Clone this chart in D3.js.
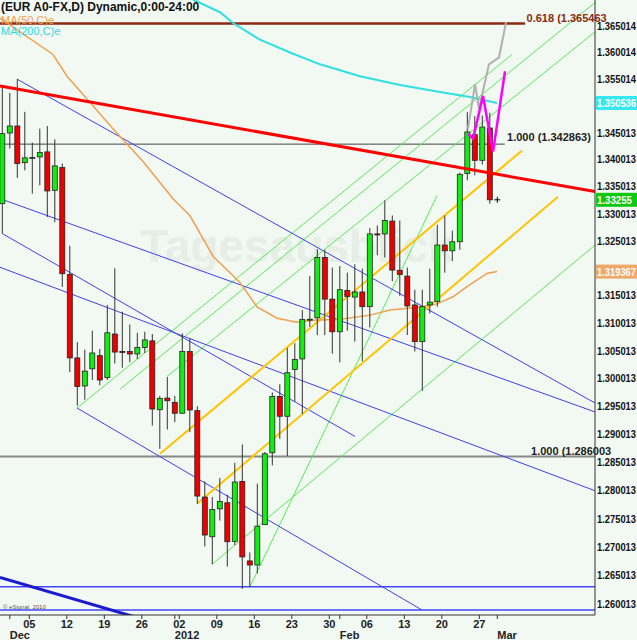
<!DOCTYPE html>
<html><head><meta charset="utf-8">
<script src="https://cdn.jsdelivr.net/npm/d3@7"></script>
<style>body{margin:0;background:#fff}svg{display:block}text{font-family:"Liberation Sans",Arial,sans-serif}</style>
</head><body><svg id="c" width="637" height="640"></svg>
<script>
// OHLC per trading day, index 0 = 2011-11-30
const opens  = [1.33183,1.34494,1.34624,1.33943,1.34036,1.34049,1.34142,1.33430,1.33851,1.31885,1.30369,1.29864,1.30173,1.30410,1.30014,1.30801,1.30486,1.30486,1.30440,1.30557,1.30677,1.29438,1.29646,1.29569,1.29374,1.30486,1.29420,1.27881,1.27181,1.27673,1.27780,1.27099,1.28159,1.26755,1.26684,1.27394,1.28668,1.29676,1.29320,1.30161,1.30351,1.31064,1.31094,1.32195,1.31435,1.30842,1.31594,1.31472,1.31565,1.31298,1.32627,1.32627,1.32863,1.31960,1.31854,1.31329,1.30664,1.31329,1.31391,1.32423,1.32317,1.32484,1.33740,1.34463,1.33986,1.34587];
const highs  = [1.35371,1.35241,1.35501,1.34889,1.34314,1.34574,1.34624,1.34375,1.33925,1.32410,1.30653,1.30516,1.30860,1.30529,1.31329,1.31997,1.31206,1.30973,1.30824,1.30842,1.30801,1.29687,1.30024,1.29687,1.30813,1.30724,1.29498,1.28159,1.27881,1.28219,1.27922,1.28491,1.28816,1.26904,1.28118,1.28681,1.29747,1.29895,1.30547,1.30635,1.31237,1.31854,1.32349,1.32336,1.32010,1.32039,1.31917,1.32071,1.31991,1.32733,1.32781,1.33245,1.32966,1.32874,1.32010,1.31607,1.31607,1.31991,1.32794,1.32966,1.32688,1.33758,1.34883,1.34809,1.34820,1.34870];
const lows   = [1.32627,1.34203,1.33660,1.33801,1.33369,1.33523,1.32937,1.32844,1.31657,1.30113,1.29509,1.29616,1.29971,1.29877,1.29971,1.30268,1.30191,1.30291,1.30351,1.30458,1.29153,1.28739,1.29082,1.29214,1.29361,1.29036,1.27762,1.27010,1.26696,1.27465,1.26655,1.27034,1.26264,1.26300,1.26536,1.27389,1.28443,1.28917,1.28610,1.29580,1.29361,1.30931,1.30783,1.30783,1.30445,1.30291,1.30860,1.30664,1.30309,1.30920,1.32238,1.32195,1.31761,1.31496,1.30783,1.30486,1.29776,1.31176,1.31298,1.31917,1.32132,1.32336,1.33615,1.33708,1.33906,1.33183];
const closes = [1.34481,1.34624,1.33925,1.34031,1.34040,1.34129,1.33419,1.33882,1.31898,1.30369,1.29854,1.30131,1.30458,1.29971,1.30824,1.30475,1.30480,1.30440,1.30557,1.30694,1.29450,1.29641,1.29598,1.29374,1.30486,1.29432,1.27899,1.27211,1.27661,1.27803,1.27092,1.28148,1.26826,1.26684,1.27366,1.28650,1.29676,1.29320,1.30102,1.30339,1.31064,1.31070,1.32195,1.31435,1.30842,1.31607,1.31483,1.31565,1.31298,1.32627,1.32620,1.32874,1.31965,1.31885,1.31311,1.30664,1.31298,1.31380,1.32423,1.32317,1.32484,1.33727,1.34513,1.33986,1.34605,1.33255];
// moving averages [index, price]
const ma50  = [[-0.31,1.36650],[6.76,1.35964],[8.63,1.35556],[11.29,1.35130],[14.76,1.34574],[18.76,1.33962],[22.76,1.33276],[25.03,1.32961],[28.09,1.32219],[31.69,1.31737],[33.96,1.31292],[36.63,1.31088],[39.29,1.31014],[41.43,1.31051],[45.03,1.31070],[49.03,1.31144],[51.69,1.31237],[55.69,1.31292],[57.96,1.31348],[60.09,1.31478],[61.96,1.31663],[64.63,1.31904],[65.96,1.31937]];
const ma200 = [[23,1.37206],[25.7,1.36984],[29.03,1.36762],[30.76,1.36558],[34.36,1.36242],[38.36,1.36001],[42.36,1.35779],[47.69,1.35556],[53.03,1.35390],[58.36,1.35260],[62.36,1.35167],[65.96,1.35054]];
// projections
const grayPath = [[62.09,1.34574],[63.03,1.35408],[63.56,1.34945],[64.89,1.35779],[66.23,1.35909],[67.17,1.36576]];
const pinkPath = [[62.09,1.34481],[62.76,1.34388],[64.09,1.35186],[65.43,1.34148],[67.03,1.35649]];
// trendlines [i1,p1,i2,p2]
const redLine   = [[-0.31,1.35371,79.03,1.33406]];
const blueLines = [[1.96,1.35501,79.03,1.29557],[0.09,1.32627,47.03,1.28959],[-0.31,1.33276,79.03,1.29397],[-0.31,1.32016,79.03,1.27993],[9.96,1.29468,55.96,1.25896]];
const blueThick = [[-0.31,1.26465,21.03,1.25648]];
const greenLines= [[9.96,1.29468,67.96,1.35964],[15.69,1.29806,79.03,1.36947],[21.96,1.30037,79.03,1.36391],[27.96,1.26696,79.03,1.32423],[33.03,1.26305,57.96,1.33332]];
const yellowLines=[[21.03,1.28650,69.29,1.34166],[25.96,1.27762,74.09,1.33313]];
// levels
const levelPrices = [1.365463,1.342863,1.286003,1.26303,1.25897];
const axisTicks = [1.365014,1.360014,1.355014,1.345013,1.340013,1.335013,1.330013,1.325013,1.315013,1.310013,1.305013,1.300013,1.295013,1.290013,1.285013,1.280013,1.275013,1.270013,1.265013,1.260013];
const dayTickIdx = [3,8,13,18,23,28,33,38,43,48,53,58,63];
const dayTickLabels = ["05","12","19","26","02","09","16","23","30","06","13","20","27"];
const monthIdx = [1,23,45,66];
const monthLabels = ["Dec","2012","Feb","Mar"];

const W=595,H=615;
const svg=d3.select("#c");
svg.append("rect").attr("width",637).attr("height",640).attr("fill","#f2f8f2");
const x=d3.scaleLinear().domain([0,1]).range([2.3,9.8]);
const y=d3.scaleLog().domain([1.260013,1.365013]).range([604,26]);
svg.append("defs").append("clipPath").attr("id","pc").append("rect").attr("width",W).attr("height",H);
const g=svg.append("g").attr("clip-path","url(#pc)");
g.append("text").attr("x",140).attr("y",262).attr("font-size",46).attr("font-weight","bold").attr("fill","#e6eee6").text("Tagesausblick");
const seg=(arr,col,w)=>g.selectAll(null).data(arr).enter().append("line")
 .attr("x1",d=>x(d[0])).attr("y1",d=>y(d[1])).attr("x2",d=>x(d[2])).attr("y2",d=>y(d[3]))
 .attr("stroke",col).attr("stroke-width",w);
g.append("line").attr("x1",0).attr("x2",x(69.7)).attr("y1",y(levelPrices[0])).attr("y2",y(levelPrices[0])).attr("stroke","#8b2a10").attr("stroke-width",2.5);
g.append("line").attr("x1",0).attr("x2",x(67)).attr("y1",y(levelPrices[1])).attr("y2",y(levelPrices[1])).attr("stroke","#444").attr("stroke-width",1);
g.append("line").attr("x1",0).attr("x2",W).attr("y1",y(levelPrices[2])).attr("y2",y(levelPrices[2])).attr("stroke","#888").attr("stroke-width",2);
[3,4].forEach(i=>g.append("line").attr("x1",0).attr("x2",W).attr("y1",y(levelPrices[i])).attr("y2",y(levelPrices[i])).attr("stroke","#4444ff").attr("stroke-width",1.5));
seg(greenLines,"#55ee55",1);
seg(blueLines,"#4040ee",1);
seg(blueThick,"#1a1ad0",3);
seg(yellowLines,"#ffc400",2);
const ln=d3.line().x(d=>x(d[0])).y(d=>y(d[1]));
g.append("path").attr("d",ln(ma50)).attr("fill","none").attr("stroke","#f0a050").attr("stroke-width",1.5);
g.append("path").attr("d",ln(ma200)).attr("fill","none").attr("stroke","#30e0e0").attr("stroke-width",2);
const cd=opens.map((o,i)=>({i,o,h:highs[i],l:lows[i],c:closes[i]}));
g.selectAll(null).data(cd).enter().append("line").attr("x1",d=>x(d.i)).attr("x2",d=>x(d.i)).attr("y1",d=>y(d.h)).attr("y2",d=>y(d.l)).attr("stroke","#333").attr("stroke-width",1);
g.selectAll(null).data(cd).enter().append("rect").attr("x",d=>x(d.i)-2.5).attr("width",5)
 .attr("y",d=>y(Math.max(d.o,d.c))).attr("height",d=>Math.max(1,Math.abs(y(d.o)-y(d.c))))
 .attr("fill",d=>d.c>=d.o?"#11ee11":"#ee0000").attr("stroke","#222").attr("stroke-width",0.8);
seg(redLine,"#ff0000",3);
g.append("path").attr("d",ln(grayPath)).attr("fill","none").attr("stroke","#b0b0b0").attr("stroke-width",2);
g.append("path").attr("d",ln(pinkPath)).attr("fill","none").attr("stroke","#ff00ff").attr("stroke-width",2.5);
const px=x(66),py=y(closes[65]);
g.append("path").attr("d",`M${px-3},${py}H${px+3}M${px},${py-3}V${py+3}`).attr("stroke","#000").attr("stroke-width",1);
const lt=(tx,ty,s,col)=>svg.append("text").attr("x",tx).attr("y",ty).attr("font-size",11).attr("font-weight","bold").attr("fill",col).text(s);
lt(x(69.9),y(levelPrices[0])-2,"0.618 (1.365463","#8b2a10");
lt(x(67.3),y(levelPrices[1])-3,"1.000 (1.342863)","#222");
lt(x(70.5),y(levelPrices[2])-2,"1.000 (1.286003","#222");
svg.append("line").attr("x1",W).attr("x2",W).attr("y1",0).attr("y2",H).attr("stroke","#333");
svg.append("line").attr("x1",0).attr("x2",W).attr("y1",H).attr("y2",H).attr("stroke","#333");
const fit=(sel,tl)=>sel.attr("font-size",10).attr("font-weight","bold").attr("textLength",tl).attr("lengthAdjust","spacingAndGlyphs");
fit(svg.selectAll(null).data(axisTicks).enter().append("text").attr("x",W+2).attr("y",d=>y(d)+4).attr("fill","#111").text(d=>d.toFixed(6)),39);
const box=(p,s,col,tl)=>{svg.append("rect").attr("x",W+1).attr("y",y(p)-7).attr("width",42).attr("height",14).attr("fill",col);
 fit(svg.append("text").attr("x",W+2).attr("y",y(p)+4).attr("fill","#fff").text(s),tl);};
box(1.350536,"1.350536","#33e8f0",39);
box(closes[65],"1.33255","#11c811",35);
box(1.319367,"1.319367","#f0a868",39);
svg.selectAll(null).data(dayTickIdx).enter().append("line").attr("x1",d=>x(d+0.6)).attr("x2",d=>x(d+0.6)).attr("y1",H).attr("y2",H+4).attr("stroke","#333");
svg.selectAll(null).data(monthIdx).enter().append("line").attr("x1",d=>x(d)).attr("x2",d=>x(d)).attr("y1",H).attr("y2",H+4).attr("stroke","#333");
svg.selectAll(null).data(dayTickIdx).enter().append("text").attr("x",d=>x(d+0.6)).attr("y",628).attr("text-anchor","middle").attr("font-size",11).attr("font-weight","bold").attr("fill","#222").text((d,i)=>dayTickLabels[i]);
svg.selectAll(null).data(monthIdx).enter().append("text").attr("x",d=>x(d)).attr("y",639).attr("font-size",11).attr("font-weight","bold").attr("fill","#222").text((d,i)=>monthLabels[i]);
svg.append("text").attr("x",1).attr("y",11).attr("font-size",12).attr("font-weight","bold").attr("fill","#111").text("(EUR A0-FX,D) Dynamic,0:00-24:00");
svg.append("text").attr("x",1).attr("y",24).attr("font-size",11).attr("fill","#f0a050").text("MA(50,C)e");
svg.append("text").attr("x",1).attr("y",35).attr("font-size",11).attr("fill","#30d8e0").text("MA(200,C)e");
svg.append("text").attr("x",3).attr("y",609).attr("font-size",6).attr("fill","#555").text("© eSignal, 2010");
</script></body></html>
